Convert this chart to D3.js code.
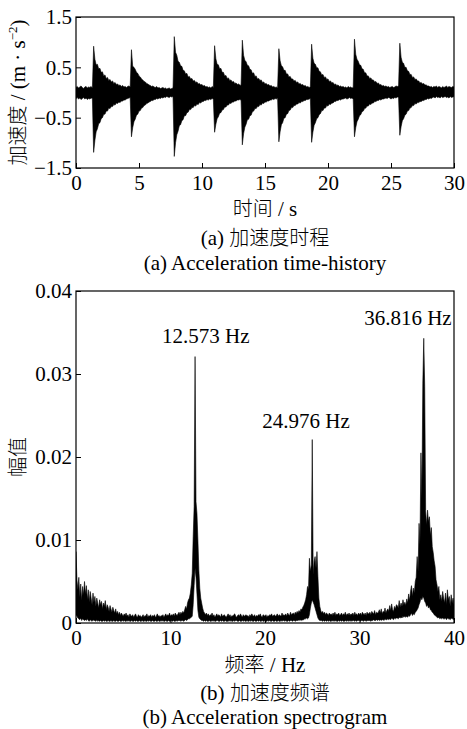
<!DOCTYPE html>
<html><head><meta charset="utf-8">
<script src="https://cdn.jsdelivr.net/npm/d3@7"></script>
<style>body{margin:0;background:#fff}svg{display:block}</style>
</head><body>
<script>
// ---------- Data: (a) acceleration time-history, envelope every 0.1 s ----------
const timeStep = 0.1; // s
const accUpper = [
0.10,0.12,0.09,0.11,0.13,0.10,0.08,0.11,0.12,0.09,
0.11,0.10,0.12,0.09,0.92,0.66,0.55,0.56,0.47,0.48,
0.40,0.41,0.33,0.35,0.28,0.30,0.24,0.26,0.21,0.23,
0.18,0.20,0.16,0.17,0.14,0.15,0.12,0.14,0.11,0.12,
0.10,0.12,0.13,0.11,0.85,0.52,0.50,0.46,0.40,0.38,
0.33,0.31,0.27,0.25,0.22,0.21,0.18,0.17,0.15,0.14,
0.12,0.13,0.11,0.10,0.12,0.09,0.10,0.08,0.09,0.10,
0.08,0.09,0.07,0.08,0.09,0.07,0.08,0.09,1.11,0.80,
0.74,0.62,0.60,0.53,0.52,0.44,0.43,0.37,0.38,0.31,
0.32,0.27,0.28,0.23,0.24,0.20,0.21,0.17,0.18,0.15,
0.16,0.13,0.14,0.11,0.12,0.10,0.11,0.09,0.12,0.10,
0.93,0.67,0.56,0.55,0.47,0.48,0.40,0.40,0.33,0.34,
0.28,0.29,0.24,0.25,0.21,0.22,0.18,0.19,0.16,0.17,
0.15,0.14,1.04,0.74,0.64,0.61,0.54,0.53,0.46,0.45,
0.38,0.39,0.32,0.33,0.27,0.28,0.24,0.25,0.20,0.21,
0.17,0.18,0.15,0.16,0.13,0.14,0.11,0.12,0.10,0.11,
0.09,0.87,0.63,0.53,0.51,0.44,0.44,0.37,0.37,0.31,
0.32,0.27,0.27,0.23,0.24,0.20,0.21,0.17,0.18,0.15,
0.16,0.13,0.14,0.11,0.12,0.10,0.11,0.96,0.68,0.58,
0.56,0.49,0.49,0.42,0.41,0.35,0.36,0.30,0.31,0.26,
0.27,0.22,0.23,0.19,0.20,0.16,0.17,0.14,0.15,0.12,
0.13,0.11,0.12,0.10,0.11,0.09,0.12,0.10,0.11,0.09,
0.10,1.06,0.76,0.66,0.62,0.55,0.54,0.47,0.46,0.39,
0.39,0.33,0.33,0.28,0.29,0.25,0.25,0.21,0.22,0.18,
0.19,0.15,0.16,0.13,0.14,0.12,0.13,0.11,0.12,0.10,
0.11,0.12,0.10,0.11,0.13,0.12,0.13,0.98,0.70,0.60,
0.58,0.50,0.50,0.43,0.42,0.36,0.36,0.30,0.31,0.26,
0.27,0.23,0.23,0.19,0.20,0.17,0.18,0.15,0.15,0.13,
0.13,0.11,0.12,0.10,0.12,0.11,0.13,0.10,0.12,0.11,
0.09,0.12,0.10,0.11,0.13,0.10,0.12,0.11,0.10,0.12,
0.11];
const accLower = [
-0.12,-0.10,-0.13,-0.11,-0.14,-0.12,-0.10,-0.13,-0.11,-0.14,
-0.12,-0.13,-0.11,-0.12,-1.19,-0.95,-0.78,-0.72,-0.62,-0.60,
-0.52,-0.50,-0.43,-0.43,-0.37,-0.37,-0.31,-0.32,-0.28,-0.28,
-0.24,-0.25,-0.21,-0.22,-0.19,-0.20,-0.17,-0.17,-0.15,-0.15,
-0.13,-0.12,-0.11,-0.10,-0.88,-0.70,-0.58,-0.53,-0.45,-0.43,
-0.37,-0.36,-0.31,-0.30,-0.26,-0.25,-0.22,-0.21,-0.19,-0.18,
-0.16,-0.16,-0.14,-0.14,-0.12,-0.13,-0.11,-0.12,-0.10,-0.11,
-0.09,-0.10,-0.08,-0.09,-0.10,-0.08,-0.09,-0.08,-1.27,-1.00,
-0.84,-0.77,-0.66,-0.64,-0.56,-0.54,-0.46,-0.46,-0.40,-0.39,
-0.34,-0.34,-0.30,-0.30,-0.26,-0.27,-0.23,-0.24,-0.20,-0.21,
-0.18,-0.18,-0.16,-0.16,-0.14,-0.15,-0.13,-0.14,-0.12,-0.13,
-0.79,-0.63,-0.52,-0.48,-0.41,-0.40,-0.35,-0.34,-0.29,-0.29,
-0.25,-0.25,-0.21,-0.22,-0.19,-0.19,-0.17,-0.17,-0.15,-0.15,
-0.14,-0.15,-1.04,-0.82,-0.69,-0.63,-0.54,-0.53,-0.46,-0.45,
-0.38,-0.37,-0.32,-0.32,-0.28,-0.28,-0.24,-0.25,-0.21,-0.22,
-0.19,-0.19,-0.17,-0.17,-0.15,-0.15,-0.13,-0.14,-0.12,-0.13,
-0.11,-0.98,-0.78,-0.64,-0.60,-0.51,-0.50,-0.43,-0.42,-0.36,
-0.35,-0.30,-0.30,-0.26,-0.26,-0.23,-0.23,-0.20,-0.21,-0.18,
-0.18,-0.16,-0.16,-0.14,-0.14,-0.13,-0.12,-0.99,-0.79,-0.65,
-0.60,-0.52,-0.50,-0.44,-0.42,-0.36,-0.36,-0.31,-0.31,-0.26,
-0.27,-0.23,-0.24,-0.21,-0.21,-0.18,-0.18,-0.16,-0.16,-0.14,
-0.15,-0.13,-0.13,-0.12,-0.11,-0.13,-0.12,-0.10,-0.12,-0.11,
-0.13,-0.88,-0.70,-0.58,-0.53,-0.46,-0.44,-0.38,-0.37,-0.32,
-0.31,-0.27,-0.27,-0.23,-0.24,-0.21,-0.21,-0.18,-0.18,-0.16,
-0.16,-0.14,-0.15,-0.13,-0.13,-0.12,-0.11,-0.12,-0.10,-0.11,
-0.13,-0.11,-0.12,-0.10,-0.11,-0.09,-0.10,-0.85,-0.68,-0.56,
-0.52,-0.45,-0.43,-0.37,-0.36,-0.31,-0.30,-0.26,-0.26,-0.22,
-0.23,-0.20,-0.20,-0.18,-0.18,-0.16,-0.16,-0.14,-0.14,-0.12,
-0.13,-0.11,-0.12,-0.10,-0.09,-0.11,-0.08,-0.10,-0.09,-0.11,
-0.08,-0.10,-0.09,-0.08,-0.10,-0.09,-0.11,-0.08,-0.10,-0.09,
-0.08];
const timeTicks = [0,5,10,15,20,25,30];
const accTicks = [-1.5,-0.5,0.5,1.5];

// ---------- Data: (b) acceleration spectrum, envelope every 0.1 Hz ----------
const freqStep = 0.1; // Hz
const specUpper = [
.0086,.0052,.0040,.0055,.0031,.0047,.0027,.0044,.0034,.0050,
.0035,.0045,.0028,.0040,.0025,.0038,.0030,.0022,.0036,.0025,
.0032,.0020,.0030,.0024,.0018,.0028,.0022,.0026,.0017,.0024,
.0020,.0027,.0016,.0022,.0019,.0014,.0021,.0017,.0013,.0019,
.0015,.0012,.0017,.0011,.0014,.0010,.0013,.0009,.0012,.0010,
.0008,.0011,.0009,.0012,.0008,.0010,.0007,.0011,.0009,.0008,
.0010,.0007,.0009,.0011,.0008,.0007,.0010,.0008,.0009,.0007,
.0008,.0010,.0007,.0009,.0008,.0011,.0007,.0009,.0008,.0010,
.0007,.0009,.0008,.0010,.0007,.0008,.0011,.0008,.0009,.0007,
.0009,.0008,.0010,.0007,.0009,.0011,.0008,.0010,.0009,.0012,
.0008,.0010,.0009,.0011,.0008,.0012,.0010,.0009,.0011,.0013,
.0010,.0013,.0011,.0014,.0012,.0016,.0020,.0017,.0024,.0028,
.0030,.0036,.0046,.0060,.0104,.0140,.0321,.0146,.0132,.0100,
.0064,.0042,.0030,.0024,.0018,.0014,.0012,.0010,.0012,.0009,
.0011,.0008,.0010,.0009,.0012,.0008,.0010,.0007,.0009,.0011,
.0008,.0010,.0009,.0007,.0011,.0008,.0009,.0010,.0008,.0007,
.0009,.0011,.0008,.0010,.0007,.0009,.0008,.0010,.0011,.0008,
.0007,.0009,.0010,.0008,.0011,.0009,.0007,.0010,.0008,.0009,
.0010,.0008,.0009,.0007,.0010,.0008,.0011,.0009,.0008,.0010,
.0007,.0009,.0008,.0010,.0009,.0011,.0008,.0007,.0010,.0009,
.0008,.0010,.0007,.0009,.0008,.0010,.0009,.0011,.0008,.0009,
.0010,.0008,.0009,.0011,.0008,.0010,.0009,.0008,.0012,.0009,
.0010,.0009,.0011,.0008,.0012,.0010,.0009,.0013,.0010,.0011,
.0012,.0010,.0013,.0011,.0014,.0012,.0015,.0013,.0017,.0016,
.0019,.0021,.0024,.0028,.0034,.0044,.0040,.0078,.0062,.0070,
.0221,.0058,.0074,.0080,.0066,.0086,.0056,.0030,.0020,.0015,
.0012,.0014,.0011,.0013,.0010,.0012,.0011,.0009,.0012,.0010,
.0011,.0009,.0012,.0010,.0013,.0009,.0011,.0010,.0012,.0009,
.0010,.0012,.0009,.0011,.0010,.0013,.0009,.0011,.0010,.0012,
.0009,.0011,.0010,.0012,.0009,.0013,.0010,.0011,.0009,.0012,
.0010,.0012,.0009,.0013,.0011,.0010,.0012,.0009,.0013,.0011,
.0011,.0013,.0010,.0014,.0012,.0011,.0015,.0010,.0013,.0012,
.0013,.0016,.0012,.0017,.0011,.0014,.0013,.0018,.0012,.0015,
.0017,.0014,.0021,.0015,.0023,.0016,.0014,.0020,.0017,.0022,
.0021,.0018,.0027,.0019,.0024,.0020,.0028,.0022,.0025,.0021,
.0029,.0024,.0035,.0027,.0038,.0045,.0032,.0042,.0036,.0050,
.0055,.0080,.0062,.0120,.0095,.0205,.0150,.0289,.0343,.0285,
.0135,.0118,.0136,.0122,.0128,.0105,.0115,.0092,.0085,.0075,
.0068,.0052,.0046,.0038,.0044,.0028,.0034,.0026,.0038,.0030,
.0024,.0036,.0022,.0040,.0028,.0032,.0020,.0034,.0024,.0030,
.0022];
const specLower = [
.0010,.0008,.0006,.0005,.0004,.0006,.0003,.0005,.0004,.0003,
.0004,.0003,.0005,.0003,.0002,.0004,.0003,.0002,.0004,.0003,
.0003,.0002,.0004,.0002,.0003,.0002,.0003,.0002,.0002,.0003,
.0002,.0003,.0002,.0002,.0003,.0002,.0002,.0003,.0002,.0002,
.0003,.0002,.0002,.0003,.0002,.0002,.0003,.0002,.0002,.0003,
.0002,.0003,.0002,.0002,.0003,.0002,.0003,.0002,.0002,.0003,
.0002,.0002,.0003,.0002,.0003,.0002,.0002,.0003,.0002,.0002,
.0003,.0002,.0002,.0003,.0002,.0002,.0003,.0002,.0003,.0002,
.0002,.0003,.0002,.0002,.0003,.0002,.0002,.0003,.0002,.0002,
.0003,.0002,.0003,.0002,.0002,.0003,.0002,.0002,.0003,.0002,
.0002,.0003,.0002,.0003,.0002,.0002,.0003,.0002,.0003,.0003,
.0003,.0002,.0003,.0003,.0002,.0003,.0004,.0003,.0004,.0005,
.0005,.0006,.0007,.0008,.0022,.0045,.0066,.0055,.0035,.0015,
.0007,.0005,.0004,.0003,.0003,.0002,.0003,.0002,.0003,.0002,
.0002,.0003,.0002,.0002,.0003,.0002,.0003,.0002,.0002,.0003,
.0003,.0002,.0002,.0003,.0002,.0003,.0002,.0002,.0003,.0002,
.0002,.0002,.0003,.0002,.0003,.0002,.0002,.0003,.0002,.0003,
.0003,.0002,.0002,.0003,.0002,.0002,.0003,.0002,.0003,.0002,
.0002,.0003,.0002,.0002,.0003,.0002,.0003,.0002,.0002,.0003,
.0002,.0002,.0003,.0002,.0003,.0002,.0002,.0003,.0002,.0002,
.0003,.0002,.0002,.0003,.0002,.0003,.0002,.0002,.0003,.0002,
.0002,.0003,.0002,.0002,.0003,.0002,.0002,.0003,.0002,.0003,
.0003,.0002,.0003,.0002,.0002,.0003,.0002,.0003,.0003,.0002,
.0003,.0003,.0002,.0003,.0003,.0003,.0004,.0003,.0004,.0003,
.0004,.0004,.0005,.0005,.0006,.0005,.0006,.0010,.0018,.0024,
.0028,.0025,.0022,.0018,.0014,.0010,.0006,.0004,.0003,.0003,
.0003,.0002,.0003,.0002,.0003,.0002,.0003,.0002,.0003,.0002,
.0002,.0003,.0002,.0003,.0002,.0003,.0002,.0002,.0003,.0002,
.0003,.0002,.0003,.0002,.0002,.0003,.0002,.0003,.0002,.0003,
.0002,.0003,.0002,.0003,.0003,.0002,.0003,.0002,.0003,.0003,
.0003,.0002,.0003,.0003,.0002,.0003,.0003,.0002,.0003,.0003,
.0003,.0003,.0002,.0003,.0003,.0004,.0003,.0003,.0004,.0003,
.0004,.0003,.0004,.0003,.0004,.0004,.0003,.0005,.0004,.0004,
.0005,.0004,.0005,.0004,.0006,.0005,.0004,.0006,.0005,.0006,
.0006,.0005,.0007,.0006,.0007,.0006,.0008,.0007,.0008,.0007,
.0008,.0007,.0009,.0008,.0010,.0012,.0009,.0011,.0010,.0013,
.0014,.0016,.0018,.0022,.0025,.0030,.0028,.0032,.0030,.0026,
.0024,.0020,.0022,.0018,.0020,.0016,.0015,.0013,.0012,.0010,
.0009,.0008,.0007,.0006,.0007,.0005,.0006,.0005,.0006,.0005,
.0005,.0006,.0004,.0006,.0005,.0005,.0004,.0006,.0005,.0005,
.0004];
const freqTicks = [0,10,20,30,40];
const ampTicks = [0,0.01,0.02,0.03,0.04];
const peakFreqs = [12.573, 24.976, 36.816];
const peakAmps = [0.0321, 0.0221, 0.0343];
const peakLabels = ["12.573 Hz", "24.976 Hz", "36.816 Hz"];

// ---------- Drawing ----------
const W = 467, H = 729;
const SERIF = "'Liberation Serif','Times New Roman',serif";
const CJK = "'Noto Sans CJK SC','Noto Sans CJK JP',sans-serif";
const FS = 21, FSC = 20;
const svg = d3.select("body").append("svg").attr("width", W).attr("height", H)
  .style("background", "#fff");

function styleAxis(g) {
  g.select(".domain").remove();
  g.selectAll(".tick line").attr("stroke", "#000").attr("stroke-width", 1);
  g.selectAll(".tick text").attr("fill", "#000")
    .style("font-family", SERIF).style("font-size", FS + "px");
}

// ---- (a) ----
const xa = d3.scaleLinear().domain([0, 30]).range([76, 454]);
const ya = d3.scaleLinear().domain([-1.5, 1.5]).range([168, 17]);
const accData = accUpper.map((u, i) => ({ t: i * timeStep, u: u, l: accLower[i] }));

svg.append("defs").append("clipPath").attr("id", "clipA")
  .append("rect").attr("x", 76).attr("y", 17).attr("width", 378).attr("height", 151);
svg.append("path").datum(accData)
  .attr("clip-path", "url(#clipA)")
  .attr("d", d3.area().x(d => xa(d.t)).y0(d => ya(d.l)).y1(d => ya(d.u)))
  .attr("fill", "#000").attr("stroke", "#000").attr("stroke-width", 0.6);

svg.append("g").attr("transform", "translate(0,168)")
  .call(d3.axisBottom(xa).tickValues(timeTicks).tickSize(-5).tickPadding(7).tickFormat(d3.format("d")))
  .call(styleAxis);
svg.append("g").attr("transform", "translate(76,0)")
  .call(d3.axisLeft(ya).tickValues(accTicks).tickSize(-5).tickPadding(4).tickFormat(d3.format(".1f")))
  .call(styleAxis);
svg.append("rect").attr("x", 76).attr("y", 17).attr("width", 378).attr("height", 151)
  .attr("fill", "none").attr("stroke", "#000").attr("stroke-width", 1.2);

// y label (a)
const yla = svg.append("text").attr("transform", "translate(25,92.5) rotate(-90)")
  .attr("text-anchor", "middle").attr("fill", "#000");
yla.append("tspan").style("font-family", CJK).style("font-size", FSC + "px").style("font-weight", 300).text("加速度");
yla.append("tspan").style("font-family", SERIF).style("font-size", FS + "px").text(" / (m · s");
yla.append("tspan").style("font-family", SERIF).style("font-size", "13px").attr("dy", -8).text("−2");
yla.append("tspan").style("font-family", SERIF).style("font-size", FS + "px").attr("dy", 8).text(")");

// x label + captions
function mixedText(x, y, parts) {
  const t = svg.append("text").attr("x", x).attr("y", y).attr("text-anchor", "middle").attr("fill", "#000");
  parts.forEach(p => {
    const s = t.append("tspan").style("font-family", p[1] ? CJK : SERIF)
      .style("font-size", (p[1] ? FSC : FS) + "px").text(p[0]);
    if (p[1]) s.style("font-weight", 300);
  });
  return t;
}
mixedText(265, 216, [["时间", true], [" / s", false]]);
mixedText(265, 245, [["(a) ", false], ["加速度时程", true]]);
mixedText(265, 270, [["(a) Acceleration time-history", false]]);

// ---- (b) ----
const xb = d3.scaleLinear().domain([0, 40]).range([76, 454]);
const yb = d3.scaleLinear().domain([0, 0.04]).range([623, 291]);
const specData = specUpper.map((u, i) => ({ f: i * freqStep, u: u, l: specLower[i] }));

svg.select("defs").append("clipPath").attr("id", "clipB")
  .append("rect").attr("x", 76).attr("y", 291).attr("width", 378).attr("height", 332);
svg.append("path").datum(specData)
  .attr("clip-path", "url(#clipB)")
  .attr("d", d3.area().x(d => xb(d.f)).y0(d => yb(d.l)).y1(d => yb(d.u)))
  .attr("fill", "#000").attr("stroke", "#000").attr("stroke-width", 0.6);

svg.append("g").attr("transform", "translate(0,623)")
  .call(d3.axisBottom(xb).tickValues(freqTicks).tickSize(-5).tickPadding(7).tickFormat(d3.format("d")))
  .call(styleAxis);
svg.append("g").attr("transform", "translate(76,0)")
  .call(d3.axisLeft(yb).tickValues(ampTicks).tickSize(-5).tickPadding(4)
    .tickFormat(d => d === 0 ? "0" : d3.format(".2f")(d)))
  .call(styleAxis);
svg.append("rect").attr("x", 76).attr("y", 291).attr("width", 378).attr("height", 332)
  .attr("fill", "none").attr("stroke", "#000").attr("stroke-width", 1.2);

// peak annotations
const labelDx = [11, -6, -16], labelDy = [-14, -12, -13];
svg.selectAll("text.peak").data(peakFreqs).enter().append("text").attr("class", "peak")
  .attr("x", (d, i) => xb(d) + labelDx[i])
  .attr("y", (d, i) => yb(peakAmps[i]) + labelDy[i])
  .attr("text-anchor", "middle").style("font-family", SERIF).style("font-size", FS + "px")
  .attr("fill", "#000").text((d, i) => peakLabels[i]);

// y label (b)
svg.append("text").attr("transform", "translate(25,457) rotate(-90)")
  .attr("text-anchor", "middle").style("font-family", CJK).style("font-size", FSC + "px")
  .style("font-weight", 300).attr("fill", "#000").text("幅值");

mixedText(265, 672, [["频率", true], [" / Hz", false]]);
mixedText(265, 700, [["(b) ", false], ["加速度频谱", true]]);
mixedText(265, 724, [["(b) Acceleration spectrogram", false]]);
</script>
</body></html>
